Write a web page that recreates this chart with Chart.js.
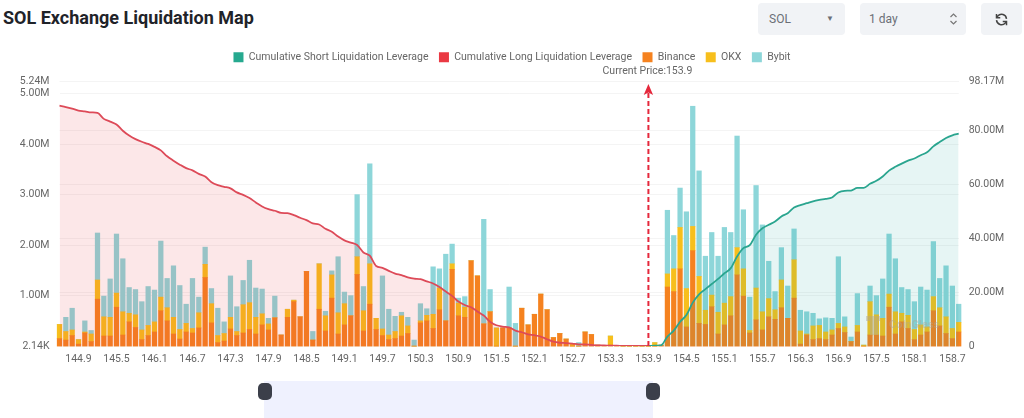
<!DOCTYPE html>
<html>
<head>
<meta charset="UTF-8">
<title>SOL Exchange Liquidation Map</title>
<script src="https://cdn.jsdelivr.net/npm/chart.js"></script>
<style>
  html, body { margin: 0; padding: 0; background: #fff; }
  body { width: 1024px; height: 418px; position: relative; overflow: hidden; font-family: Roboto, sans-serif; }
  #chartBox { position: absolute; left: 0; top: 0; width: 1024px; height: 418px; }
  h1 { position: absolute; left: 3px; top: 6px; margin: 0; font-size: 18px; line-height: 24px; font-weight: 700; color: #1f2329; }
  .ctl { position: absolute; top: 3px; height: 32px; background: #f1f3f6; border-radius: 4px; font-size: 12px; line-height: 32px; color: #6b6f76; }
  .ctl span { position: absolute; left: 11px; }
  .ctl i { position: absolute; font-style: normal; }
  #range { position: absolute; left: 264px; top: 381px; width: 389px; height: 37px; background: #eff1fe; }
  .handle { position: absolute; top: 383px; width: 14px; height: 17px; background: #3b3f4a; border-radius: 5px; }
</style>
</head>
<body>
<h1>SOL Exchange Liquidation Map</h1>
<div class="ctl" style="left:758px;width:87px"><span>SOL</span><i style="left:68px;font-size:8px">&#9660;</i></div>
<div class="ctl" style="left:860px;width:106px"><span style="left:9px">1 day</span>
  <svg style="position:absolute;left:89px;top:9px" width="9" height="14" viewBox="0 0 9 14" fill="none" stroke="#777" stroke-width="1.2"><path d="M1.5 5 4.5 2 7.5 5M1.5 9 4.5 12 7.5 9"/></svg></div>
<div class="ctl" style="left:981px;width:41px">
  <svg style="position:absolute;left:13px;top:9px" width="15" height="15" viewBox="0 0 24 24" fill="none" stroke="#444" stroke-width="2.4"><path d="M20 11a8 8 0 0 0-14-4.5L4 9M4 13a8 8 0 0 0 14 4.5l2-2.5"/><path d="M4 3v6h6M20 21v-6h-6"/></svg></div>

<div id="chartBox"><canvas id="liqChart"></canvas></div>
<div id="range"></div>
<div class="handle" style="left:258px"></div>
<div class="handle" style="left:646px"></div>

<script>
    // price levels, one per bar
    var prices = ['144.6','144.7','144.8','144.9','145.0','145.1','145.2','145.3','145.4','145.5','145.6','145.7','145.8','145.9','146.0','146.1','146.2','146.3','146.4','146.5','146.6','146.7','146.8','146.9','147.0','147.1','147.2','147.3','147.4','147.5','147.6','147.7','147.8','147.9','148.0','148.1','148.2','148.3','148.4','148.5','148.6','148.7','148.8','148.9','149.0','149.1','149.2','149.3','149.4','149.5','149.6','149.7','149.8','149.9','150.0','150.1','150.2','150.3','150.4','150.5','150.6','150.7','150.8','150.9','151.0','151.1','151.2','151.3','151.4','151.5','151.6','151.7','151.8','151.9','152.0','152.1','152.2','152.3','152.4','152.5','152.6','152.7','152.8','152.9','153.0','153.1','153.2','153.3','153.4','153.5','153.6','153.7','153.8','153.9','154.0','154.1','154.2','154.3','154.4','154.5','154.6','154.7','154.8','154.9','155.0','155.1','155.2','155.3','155.4','155.5','155.6','155.7','155.8','155.9','156.0','156.1','156.2','156.3','156.4','156.5','156.6','156.7','156.8','156.9','157.0','157.1','157.2','157.3','157.4','157.5','157.6','157.7','157.8','157.9','158.0','158.1','158.2','158.3','158.4','158.5','158.6','158.7','158.8'];
    var xTickLabels = ['144.9','145.5','146.1','146.7','147.3','147.9','148.5','149.1','149.7','150.3','150.9','151.5','152.1','152.7','153.3','153.9','154.5','155.1','155.7','156.3','156.9','157.5','158.1','158.7'];
    var currentPrice = '153.9';

    // liquidation per exchange, in millions (left axis)
    var binance = [.15,.12,.21,.04,.26,.09,.93,.20,.20,.77,.22,.48,.37,.13,.21,.28,.70,.50,.24,.14,.28,.26,.36,1.36,.46,.07,.10,.34,.21,.26,.33,.24,.42,.32,.56,.22,.57,.88,.58,1.48,.12,.73,.30,.95,.24,.42,.60,1.42,.30,.83,.33,.21,.13,.15,.20,.25,0,.46,.50,.35,.72,.50,1.52,.60,.57,1.69,1.39,.44,.68,0,.36,.36,0,.75,.42,.63,1.03,.72,.17,.25,.14,0,0,.28,.23,.02,.01,.02,.01,0,0,0,0,0,0,.02,1.17,1.08,1.53,.38,1.89,.45,.43,.78,.24,.42,.60,1.41,.99,.26,.52,.32,.58,.53,.76,.55,.95,.04,.22,.13,.15,.13,.22,.35,.27,.09,.28,0,.22,.22,.20,.77,.24,.48,.35,.13,.22,.28,.70,.40,.25,.15,.28];
    var okx = [.28,.17,.11,.09,.02,.15,.38,.38,.37,.28,.46,.17,.25,.19,.20,.20,.27,.26,.33,.19,.17,.09,.30,.26,.38,.14,.15,.23,.08,.56,.53,.33,.22,.12,0,0,.16,.03,0,0,0,.90,.30,.46,.42,.42,0,.35,.40,.80,.22,.13,.09,.14,.40,.15,0,.04,.11,.28,.43,0,.11,.25,.20,0,0,0,0,.36,0,0,0,0,0,0,0,0,0,0,0,.04,0,0,0,0,0,.18,0,0,0,0,0,0,.07,0,.26,.45,.82,.76,.48,.93,.28,.23,.43,.43,.38,.54,.54,.05,.63,.36,.36,.19,.55,0,.76,.26,.02,.27,.26,.15,.10,.10,.11,0,.13,.02,.66,.40,.35,.26,.44,.17,.26,.20,.20,.10,.28,.36,.33,.20,.19];
    var bybit = [0,.28,.43,0,.22,.07,.93,.41,.76,1.17,1.05,.51,.50,.56,.77,.63,1.11,.58,1.02,.87,.38,.99,.31,.34,.30,.54,.23,.82,.49,.48,.84,.58,.49,.11,.43,0,0,0,0,0,.17,0,.09,.08,1.11,.23,.40,1.23,.48,1.98,0,1.05,.51,.30,.07,.17,.12,.34,.13,.94,.38,1.32,.39,.10,.21,0,0,2.07,.44,0,0,.81,.45,0,0,0,0,0,0,0,0,0,.07,0,0,0,0,0,0,0,0,0,0,0,0,0,1.26,.66,.78,1.52,2.38,2.09,1.07,1.24,1.11,1.50,1.27,2.21,1.17,.66,2.03,1.72,.74,.36,.64,.64,.61,.41,.44,.25,.13,.28,.23,1.32,.20,.09,.63,0,.31,.38,.78,1.19,1.05,.51,.51,.55,.75,.73,1.09,.58,1.01,.84,.36];

    // cumulative leverage, in millions (right axis)
    var longLeverage = [89.2,88.7,88.1,87.4,87.1,86.7,86.5,84.3,83.3,82.2,79.9,78.1,76.8,75.8,75.0,73.9,72.6,70.4,68.8,67.3,66.0,65.2,63.9,62.9,60.8,59.7,59.1,58.5,57.0,56.1,54.9,53.3,51.8,50.8,50.2,49.4,49.3,48.6,47.6,46.7,45.5,45.1,43.5,42.4,40.6,39.2,38.4,37.5,34.7,33.5,29.7,29.0,27.9,26.9,26.3,25.5,25.0,24.8,24.0,23.2,21.9,20.2,18.6,16.5,15.2,14.4,12.8,11.3,9.0,7.7,7.2,6.9,5.7,5.1,4.3,4.0,3.5,2.5,1.6,1.2,1.1,.9,.6,.6,.4,.25,.25,.1,.1,.05,.05,.05,.05,0];
    var shortLeverage = [0,.1,.25,3.5,5.7,9.0,11.5,16.1,19.2,21.1,23.0,24.9,27.0,28.9,33.2,36.3,37.4,41.3,43.7,45.0,46.2,48.1,49.3,51.4,52.3,53.0,53.7,54.2,54.6,55.1,57.0,57.6,57.7,58.7,58.7,60.2,61.3,62.9,65.1,66.5,67.7,68.8,69.6,70.8,71.9,74.1,75.7,77.2,78.2,78.8];

    var leftTicks = [0.00214, 1, 2, 3, 4, 5, 5.24];
    var leftTickLabels = ['2.14K', '1.00M', '2.00M', '3.00M', '4.00M', '5.00M', '5.24M'];
    var rightTicks = [0, 20, 40, 60, 80, 98.17];
    var rightTickLabels = ['0', '20.00M', '40.00M', '60.00M', '80.00M', '98.17M'];

    var tickFont = { family: 'Roboto', size: 10.5 };
    var tickColor = '#666';

    // short line only starts at the current price
    var shortPadded = new Array(prices.length - shortLeverage.length).fill(null).concat(shortLeverage);

    // dashed arrow + label at the current price, watermark
    var priceMarker = {
        id: 'priceMarker',
        beforeLayout: function (chart) {
            // legend has no afterFit hook, so wrap fit to leave room above the plot
            var legend = chart.legend;
            if (!legend.fitWrapped) {
                var fit = legend.fit;
                legend.fit = function () { fit.call(this); this.height = 40; };
                legend.fitWrapped = true;
            }
        },
        afterDatasetsDraw: function (chart) {
            var c = chart.ctx;
            var x = chart.scales.x.getPixelForValue(prices.indexOf(currentPrice));
            var bottom = chart.chartArea.bottom;
            c.save();
            c.strokeStyle = '#e5283c';
            c.lineWidth = 2;
            c.setLineDash([5, 3]);
            c.beginPath();
            c.moveTo(x, bottom);
            c.lineTo(x, 92);
            c.stroke();
            c.setLineDash([]);
            c.fillStyle = '#e5283c';
            c.beginPath();
            c.moveTo(x, 84);
            c.lineTo(x + 4.7, 95);
            c.lineTo(x, 92.5);
            c.lineTo(x - 4.7, 95);
            c.closePath();
            c.fill();
            c.font = '10.5px Roboto';
            c.fillStyle = '#666';
            c.textAlign = 'center';
            c.textBaseline = 'middle';
            c.fillText('Current Price:' + currentPrice, x - 1, 71);

            // watermark
            c.globalAlpha = 0.45;
            c.fillStyle = '#b0a696';
            c.fillRect(866, 316, 14, 5);
            c.fillRect(870, 321, 8, 14);
            c.font = '700 11px Roboto';
            c.textAlign = 'left';
            c.fillText('CoinGlass', 889, 325);
            c.restore();
        }
    };

    var chart = new Chart('liqChart', {
        type: 'bar',
        data: {
            labels: prices,
            datasets: [
                {
                    type: 'line', label: 'Cumulative Short Liquidation Leverage', data: shortPadded, yAxisID: 'y1', order: 0,
                    borderColor: '#2aa58f', backgroundColor: 'rgba(30,160,155,0.11)', borderWidth: 1.8, pointRadius: 0,
                    fill: 'origin', cubicInterpolationMode: 'monotone'
                },
                {
                    type: 'line', label: 'Cumulative Long Liquidation Leverage', data: longLeverage, yAxisID: 'y1', order: 0,
                    borderColor: '#dd4a58', backgroundColor: 'rgba(234,57,67,0.12)', borderWidth: 1.8, pointRadius: 0,
                    fill: 'origin', cubicInterpolationMode: 'monotone'
                },
                { label: 'Binance', data: binance, backgroundColor: '#f5821f', stack: 'liq', order: 1, barThickness: 4.6, clip: false },
                { label: 'OKX', data: okx, backgroundColor: '#f7bf1c', stack: 'liq', order: 1, barThickness: 4.6, clip: false },
                { label: 'Bybit', data: bybit, backgroundColor: '#8dd6d9', stack: 'liq', order: 1, barThickness: 4.6, clip: false }
            ]
        },
        options: {
            responsive: true,
            maintainAspectRatio: false,
            animation: false,
            layout: { padding: { top: 41.5 } },
            plugins: {
                tooltip: { enabled: false },
                legend: {
                    position: 'top',
                    labels: {
                        font: tickFont,
                        color: tickColor,
                        boxWidth: 10,
                        boxHeight: 10,
                        padding: 10.5,
                        generateLabels: function (c) {
                            return c.data.datasets.map(function (d, i) {
                                return {
                                    text: d.label, datasetIndex: i, lineWidth: 0, fontColor: tickColor,
                                    fillStyle: d.type === 'line' ? (i === 0 ? '#26a98f' : '#ea3943') : d.backgroundColor
                                };
                            });
                        }
                    }
                }
            },
            scales: {
                x: {
                    stacked: true,
                    offset: false,
                    afterFit: function (s) { s.height = 72; },
                    grid: { display: false, drawTicks: false },
                    border: { display: false },
                    ticks: {
                        font: tickFont, color: tickColor, padding: 7, autoSkip: false, maxRotation: 0,
                        callback: function (v) {
                            return xTickLabels.indexOf(prices[v]) >= 0 ? prices[v] : '';
                        }
                    }
                },
                y: {
                    position: 'left',
                    stacked: true,
                    min: leftTicks[0],
                    max: leftTicks[leftTicks.length - 1],
                    afterFit: function (s) { s.width = 59.5; },
                    afterBuildTicks: function (s) { s.ticks = leftTicks.map(function (v) { return { value: v }; }); },
                    grid: { color: '#f4f4f4', drawTicks: false },
                    border: { display: false },
                    ticks: {
                        font: tickFont, color: tickColor, padding: 10,
                        callback: function (v) { return leftTickLabels[leftTicks.indexOf(v)]; }
                    }
                },
                y1: {
                    position: 'right',
                    min: rightTicks[0],
                    max: rightTicks[rightTicks.length - 1],
                    afterFit: function (s) { s.width = 65.3; },
                    afterBuildTicks: function (s) { s.ticks = rightTicks.map(function (v) { return { value: v }; }); },
                    grid: { color: '#f4f4f4', drawTicks: false },
                    border: { display: false },
                    ticks: {
                        font: tickFont, color: tickColor, padding: 10,
                        callback: function (v) { return rightTickLabels[rightTicks.indexOf(v)]; }
                    }
                }
            }
        },
        plugins: [priceMarker]
    });
</script>
</body>
</html>
